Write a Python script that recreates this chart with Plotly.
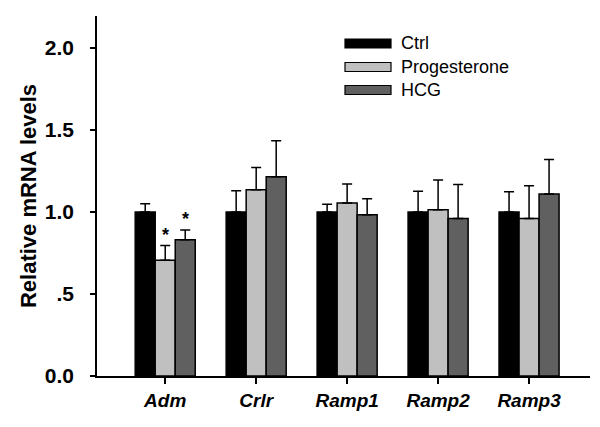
import plotly.graph_objects as go

genes = ["Adm", "Crlr", "Ramp1", "Ramp2", "Ramp3"]
series_names = ["Ctrl", "Progesterone", "HCG"]
ctrl = [1.0, 1.0, 1.0, 1.0, 1.0]
ctrl_err = [0.05, 0.13, 0.047, 0.126, 0.124]
prog = [0.705, 1.136, 1.055, 1.014, 0.96]
prog_err = [0.09, 0.135, 0.115, 0.181, 0.2]
hcg = [0.83, 1.215, 0.983, 0.96, 1.11]
hcg_err = [0.06, 0.22, 0.097, 0.207, 0.21]
colors = ["#000000", "#c0c0c0", "#606060"]
y_ticks = [0.0, 0.5, 1.0, 1.5, 2.0]
y_ticktext = ["0.0", ".5", "1.0", "1.5", "2.0"]
star_series = [1, 2]  # Progesterone and HCG for Adm

# page body has an 8px default margin; compensate so the plot lands where the original is
OFF = 8
W, H = 600 - OFF, 427 - OFF
L, R, T, B = 97 - OFF, 10, 16 - OFF, 51
pw, ph = W - L - R, H - T - B

def px_x(p):  # p in page pixels
    return (p - OFF - L) / pw

def px_y(p):
    return (H - B - (p - OFF)) / ph

fig = go.Figure()
for name, vals, errs, col in zip(series_names, [ctrl, prog, hcg], [ctrl_err, prog_err, hcg_err], colors):
    fig.add_trace(go.Bar(
        x=genes, y=vals, name=name, showlegend=False,
        marker=dict(color=col, line=dict(color="black", width=1.5)),
        error_y=dict(type="data", array=errs, arrayminus=[0]*len(errs), symmetric=False,
                     color="black", thickness=1.5, width=5),
    ))

offsets = {1: 0, 2: 20}
for si in star_series:
    vals = [ctrl, prog, hcg][si]
    errs = [ctrl_err, prog_err, hcg_err][si]
    fig.add_annotation(x=genes[0], y=vals[0] + errs[0], text="<b>*</b>", showarrow=False,
                       xshift=offsets[si], yanchor="bottom", yshift=-1,
                       font=dict(family="Liberation Sans", size=18, color="black"))

# custom legend (wide rectangular swatches like the original)
row_y = [43.5, 67, 90]
for name, col, yc in zip(series_names, colors, row_y):
    fig.add_shape(type="rect", xref="paper", yref="paper",
                  x0=px_x(345), x1=px_x(391), y0=px_y(yc + 4.5), y1=px_y(yc - 4.5),
                  fillcolor=col, line=dict(color="black", width=1.2))
    fig.add_annotation(xref="paper", yref="paper", x=px_x(399), y=px_y(yc),
                       text=name, showarrow=False, xanchor="left", yanchor="middle",
                       font=dict(family="Liberation Sans", size=18, color="black"))

fig.update_layout(
    width=W, height=H,
    margin=dict(l=L, r=R, t=T, b=B),
    paper_bgcolor="white", plot_bgcolor="white",
    barmode="group", bargap=0.34, bargroupgap=0,
    font=dict(family="Liberation Sans", color="black"),
    showlegend=False,
    xaxis=dict(range=[-0.75, 4.67], showline=True, linecolor="black", linewidth=1.5,
               ticks="outside", ticklen=6, tickwidth=1.5, tickcolor="black",
               tickfont=dict(size=19, family="Liberation Sans", weight="bold", style="italic"),
               showgrid=False, zeroline=False, automargin=False),
    yaxis=dict(range=[0, 2.195], showline=True, linecolor="black", linewidth=1.5,
               tickvals=y_ticks, ticktext=y_ticktext,
               ticks="outside", ticklen=5, tickwidth=1.5, tickcolor="black",
               ticklabelstandoff=12,
               tickfont=dict(size=21, family="Liberation Sans", weight="bold"),
               title=dict(text="Relative mRNA levels", standoff=2,
                          font=dict(size=22, family="Liberation Sans", weight="bold")),
               showgrid=False, zeroline=False, automargin=False),
)

fig.write_html("out.html")
